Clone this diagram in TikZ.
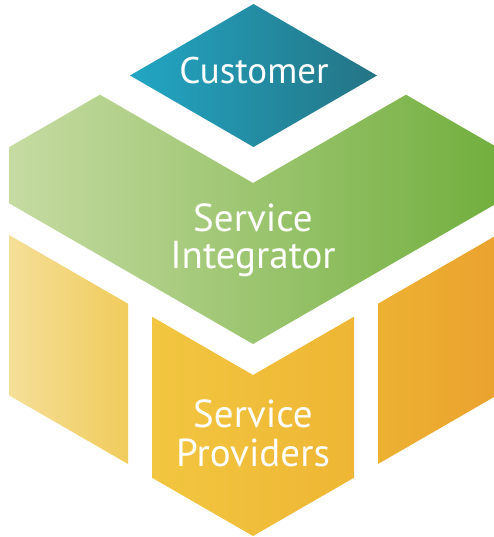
\documentclass[tikz,border=0pt]{standalone}
\usepackage{fontspec}
\setmainfont{PT Sans}
\definecolor{custL}{RGB}{34,166,196}
\definecolor{custR}{RGB}{36,116,132}
\definecolor{grnL}{RGB}{198,219,162}
\definecolor{grnR}{RGB}{114,175,62}
\definecolor{ylA}{RGB}{245,223,152}
\definecolor{ylB}{RGB}{241,204,92}
\definecolor{ylC}{RGB}{242,198,64}
\definecolor{ylD}{RGB}{238,182,52}
\definecolor{ylE}{RGB}{237,177,50}
\definecolor{ylF}{RGB}{234,162,47}
\tikzset{
  lbl/.style={text=white, anchor=base, inner sep=0pt, align=center},
}
\begin{document}
\begin{tikzpicture}[x=1pt,y=-1pt]
\useasboundingbox (0,0) rectangle (494,537);
\clip (0,0) rectangle (494,537);
% Customer
\path[left color=custL,right color=custR] (253.5,4) -- (377,75.5) -- (253.5,147) -- (130,75.5) -- cycle;
% Service Integrator
\path[left color=grnL,right color=grnR] (9,147.2) -- (100,94.7) -- (253,183) -- (406,94.7) -- (497,147.2) -- (497,203.2) -- (253,344) -- (9,203.2) -- cycle;
% Service providers
\path[left color=ylA,right color=ylB] (9,235) -- (128,303.7) -- (128,464) -- (9,395.3) -- cycle;
\path[left color=ylC,right color=ylD] (152,316.7) -- (253,375) -- (354,316.7) -- (354,477.7) -- (253,536) -- (152,477.7) -- cycle;
\path[left color=ylE,right color=ylF] (378,303.7) -- (497,235) -- (497,395.3) -- (378,464) -- cycle;
% Labels
\node[lbl, font=\fontsize{37}{37}\selectfont] (cust) at (254,84) {Customer};
\node[lbl, font=\fontsize{39}{39}\selectfont] (si1) at (253,231) {Service};
\node[lbl, font=\fontsize{39}{39}\selectfont] (si2) at (253,268) {Integrator};
\node[lbl, font=\fontsize{39}{39}\selectfont] (sp1) at (253,427) {Service};
\node[lbl, font=\fontsize{39}{39}\selectfont] (sp2) at (253,466) {Providers};
\end{tikzpicture}
\end{document}
